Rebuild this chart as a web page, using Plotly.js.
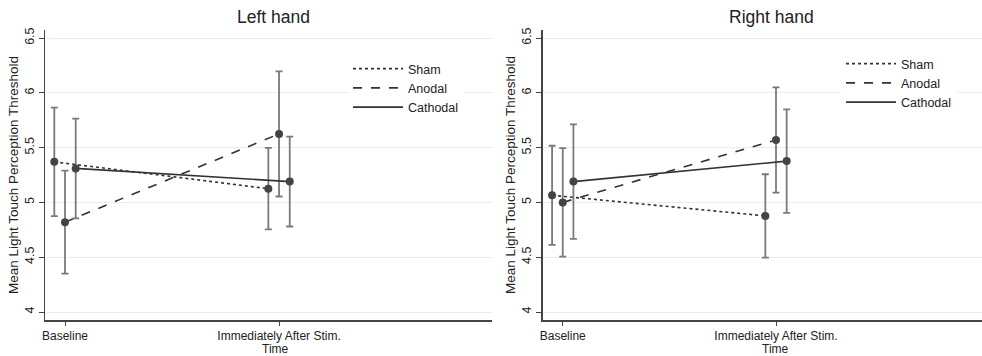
<!DOCTYPE html>
<html>
<head>
<meta charset="utf-8">
<script src="https://cdn.plot.ly/plotly-3.0.1.min.js"></script>
<style>
html,body{margin:0;padding:0;background:#fff;}
#chart{width:982px;height:356px;}
</style>
</head>
<body>
<div id="chart"></div>
<script>
// ---- data ----
const timeLabels = ["Baseline", "Immediately After Stim."];
const groups = ["Sham", "Anodal", "Cathodal"];
const yTickVals = [4, 4.5, 5, 5.5, 6, 6.5];
const yTickText = ["4", "4.5", "5", "5.5", "6", "6.5"];

const leftSham = [5.37, 5.125];
const leftAnodal = [4.82, 5.625];
const leftCathodal = [5.31, 5.19];
const leftShamErr = [0.495, 0.372];
const leftAnodalErr = [0.47, 0.571];
const leftCathodalErr = [0.455, 0.41];

const rightSham = [5.065, 4.877];
const rightAnodal = [5.0, 5.57];
const rightCathodal = [5.19, 5.377];
const rightShamErr = [0.452, 0.38];
const rightAnodalErr = [0.495, 0.48];
const rightCathodalErr = [0.522, 0.472];

// ---- styling ----
const dodge = {Sham: -0.05, Anodal: 0, Cathodal: 0.05};
const dashes = {Sham: "dot", Anodal: "dash", Cathodal: "solid"};
const FONT = "Liberation Sans, Arial, Helvetica, sans-serif";
const txt = "#222";

function makeTraces(means, errs, xa, ya, legend) {
  const out = [];
  groups.forEach((g, gi) => {
    const xs = timeLabels.map((_, i) => i + dodge[g]);
    out.push({
      type: "scatter", mode: "lines", name: g, x: xs, y: means[gi],
      xaxis: xa, yaxis: ya, legend: legend,
      line: {color: "#333", width: 1.6, dash: dashes[g]},
      hoverinfo: "skip"
    });
    out.push({
      type: "scatter", mode: "markers", name: g, x: xs, y: means[gi],
      xaxis: xa, yaxis: ya, showlegend: false,
      marker: {color: "#444", size: 8},
      error_y: {type: "data", array: errs[gi], visible: true, color: "#7a7a7a", thickness: 1.8, width: 3.5}
    });
  });
  return out;
}

const traces = [].concat(
  makeTraces([leftSham, leftAnodal, leftCathodal], [leftShamErr, leftAnodalErr, leftCathodalErr], "x", "y", "legend"),
  makeTraces([rightSham, rightAnodal, rightCathodal], [rightShamErr, rightAnodalErr, rightCathodalErr], "x2", "y2", "legend2")
);

const W = 982, H = 356;
const yDom = [1 - 320 / H, 1 - 30 / H];

function xaxisDef(dom, range) {
  return {
    domain: dom, range: range, tickmode: "array", tickvals: [0, 1], ticktext: timeLabels,
    showgrid: false, zeroline: false, showline: true, linecolor: "#444", linewidth: 1.5,
    ticks: "outside", ticklen: 4, tickcolor: "#444", tickwidth: 1,
    tickfont: {family: FONT, size: 12, color: txt}, automargin: false, fixedrange: true
  };
}
function yaxisDef(anchor) {
  return {
    domain: yDom, range: [3.927, 6.573], anchor: anchor, tickmode: "array",
    tickvals: yTickVals, ticktext: yTickText, tickangle: -90,
    showgrid: true, gridcolor: "#ececec", gridwidth: 1, zeroline: false,
    showline: true, linecolor: "#444", linewidth: 1.5,
    ticks: "outside", ticklen: 5, tickcolor: "#444", tickwidth: 1,
    tickfont: {family: FONT, size: 12.5, color: txt}, automargin: false, fixedrange: true,
    title: {text: "Mean Light Touch Perception Threshold", font: {family: FONT, size: 13.5, color: txt}, standoff: 1}
  };
}

const legendBase = {
  bgcolor: "#ffffff", borderwidth: 0, font: {family: FONT, size: 12.5, color: txt},
  xanchor: "left", yanchor: "top", traceorder: "normal", itemclick: false, itemdoubleclick: false,
  itemwidth: 50
};

const layout = {
  width: W, height: H, margin: {l: 0, r: 0, t: 0, b: 0},
  paper_bgcolor: "#fff", plot_bgcolor: "#fff",
  showlegend: true,
  xaxis: Object.assign(xaxisDef([45 / W, 492 / W], [-0.0935, 1.995]), {anchor: "y"}),
  yaxis: yaxisDef("x"),
  xaxis2: Object.assign(xaxisDef([542.7 / W, 1], [-0.094, 1.966]), {anchor: "y2"}),
  yaxis2: yaxisDef("x2"),
  legend: Object.assign({}, legendBase, {x: 348 / W, y: 1 - 54 / H}),
  legend2: Object.assign({}, legendBase, {x: 841 / W, y: 1 - 49 / H}),
  annotations: [
    {text: "Left hand", xref: "paper", yref: "paper", x: 273 / W, y: 1 - 17 / H, showarrow: false,
     xanchor: "center", yanchor: "middle", font: {family: FONT, size: 17.5, color: txt}},
    {text: "Right hand", xref: "paper", yref: "paper", x: 771 / W, y: 1 - 17 / H, showarrow: false,
     xanchor: "center", yanchor: "middle", font: {family: FONT, size: 17.5, color: txt}},
    {text: "Time", xref: "paper", yref: "paper", x: 275 / W, y: 0, showarrow: false,
     xanchor: "center", yanchor: "bottom", yshift: -2, font: {family: FONT, size: 12, color: txt}},
    {text: "Time", xref: "paper", yref: "paper", x: 775 / W, y: 0, showarrow: false,
     xanchor: "center", yanchor: "bottom", yshift: -2, font: {family: FONT, size: 12, color: txt}}
  ]
};

Plotly.newPlot("chart", traces, layout, {displayModeBar: false, staticPlot: true});
</script>
</body>
</html>
